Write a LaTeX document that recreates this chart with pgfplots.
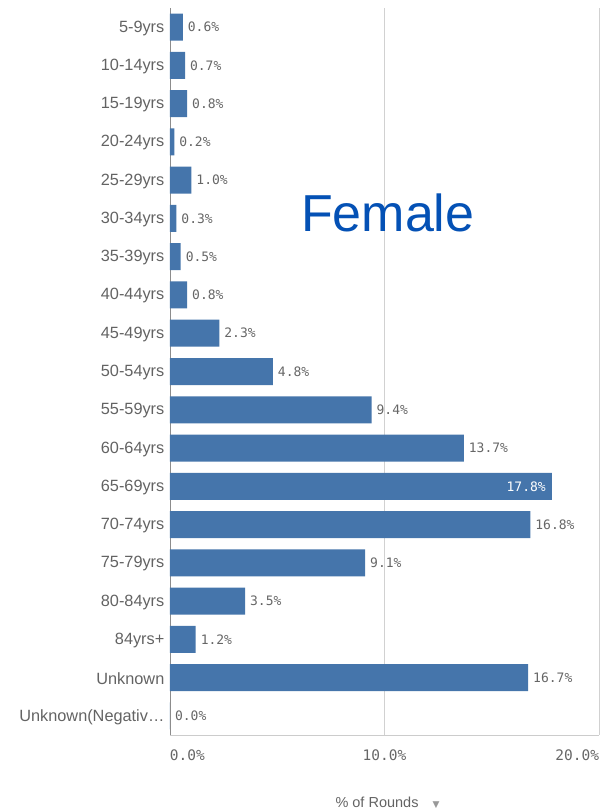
\documentclass[border=0pt]{standalone}
\usepackage{pgfplots}
\pgfplotsset{compat=1.18}
\usepackage{fontspec}
\setmainfont{Liberation Sans}
\newfontfamily\monofont{DejaVu Sans Mono}
\newfontfamily\symfont{DejaVu Sans}

\definecolor{barblue}{HTML}{4575AB}
\definecolor{labelgray}{HTML}{636363}
\definecolor{valgray}{HTML}{666666}
\definecolor{titleblue}{HTML}{0451B5}

\begin{document}
\begin{tikzpicture}
\begin{axis}[
  at={(0,0)}, anchor=south west,
  scale only axis, width=429pt, height=727pt,
  xbar, bar width=27pt, bar shift=0pt,
  xmin=0, xmax=20, ymin=-0.5, ymax=18.5, y dir=reverse,
  axis x line=bottom, axis y line=left,
  x axis line style={-, draw=black!20, line width=0.8pt},
  y axis line style={-, draw=black!45, line width=0.8pt},
  xmajorgrids=true, major grid style={draw=black!18, line width=0.8pt},
  ytick={0,...,18},
  yticklabels={5-9yrs,10-14yrs,15-19yrs,20-24yrs,25-29yrs,30-34yrs,35-39yrs,40-44yrs,45-49yrs,50-54yrs,55-59yrs,60-64yrs,65-69yrs,70-74yrs,75-79yrs,80-84yrs,84yrs+,Unknown,Unknown(Negativ…},
  ytick style={draw=none},
  yticklabel style={font=\fontsize{16.3}{19}\selectfont, text=labelgray, yshift=-1pt},
  xtick={0,10,20},
  xticklabels={\makebox[0pt][l]{0.0\%},10.0\%,\makebox[0pt][r]{20.0\%}},
  xtick style={draw=none},
  xticklabel style={font=\monofont\fontsize{14.5}{17}\selectfont, text=valgray, yshift=-9pt},
  xlabel={\% of Rounds\hspace{14pt}{\symfont\fontsize{9}{10}\selectfont\textcolor{black!40}{▼}}},
  xlabel style={at={(rel axis cs:0.5,0)}, anchor=center, yshift=-68pt, xshift=3pt, font=\fontsize{14.5}{17}\selectfont, text=labelgray},
  nodes near coords,
  point meta=explicit symbolic,
  every node near coord/.append style={anchor=west, xshift=1.5pt, font=\monofont\fontsize{13}{15}\selectfont, text=valgray},
  clip=false,
]
\addplot[fill=barblue, draw=none, bar shift=0pt] coordinates {
  (0.6,0) [0.6\%]
  (0.7,1) [0.7\%]
  (0.8,2) [0.8\%]
  (0.2,3) [0.2\%]
  (1.0,4) [1.0\%]
  (0.3,5) [0.3\%]
  (0.5,6) [0.5\%]
  (0.8,7) [0.8\%]
  (2.3,8) [2.3\%]
  (4.8,9) [4.8\%]
  (9.4,10) [9.4\%]
  (13.7,11) [13.7\%]
  (17.8,12) []
  (16.8,13) [16.8\%]
  (9.1,14) [9.1\%]
  (3.5,15) [3.5\%]
  (1.2,16) [1.2\%]
  (16.7,17) [16.7\%]
  (0.0,18) [0.0\%]
};
\addplot[fill=none, draw=none, bar shift=0pt,
  every node near coord/.append style={anchor=east, xshift=-4pt, text=white}] coordinates {
  (17.8,12) [17.8\%]
};
\node[text=titleblue, font=\fontsize{52}{60}\selectfont] at (axis cs:10.15,4.85) {Female};
\end{axis}
\pgfresetboundingbox
\path (-170pt,-77pt) rectangle (431pt,735pt);
\end{tikzpicture}
\end{document}
